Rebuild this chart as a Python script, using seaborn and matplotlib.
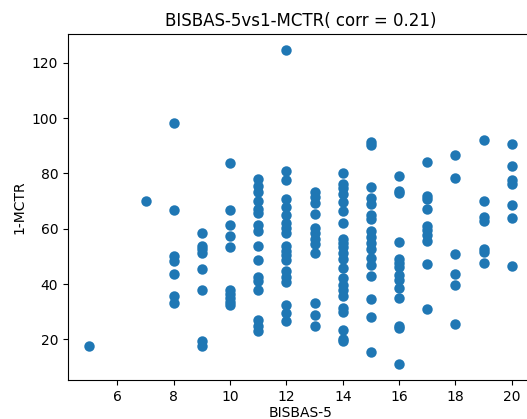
import matplotlib
matplotlib.use("Agg")
import matplotlib.pyplot as plt
import seaborn as sns
import pandas as pd

# BISBAS-5 score groups and the 1-MCTR values observed in each
bisbas_levels = [5, 7, 8, 9, 10, 11, 12, 13, 14, 15, 16, 17, 18, 19, 20]
mctr_5 = [17.5]
mctr_7 = [70.0]
mctr_8 = [98.2, 66.8, 50.3, 48.3, 43.5, 35.5, 33.0]
mctr_9 = [58.4, 53.9, 52.5, 51.2, 45.4, 37.7, 19.5, 17.5]
mctr_10 = [83.6, 66.8, 61.4, 57.2, 53.5, 38.0, 36.5, 35.0, 33.5, 32.5]
mctr_11 = [77.8, 75.4, 73.4, 70.1, 67.0, 65.6, 61.4, 59.0, 53.8, 48.8,
           42.7, 41.2, 37.9, 27.1, 24.9, 22.9]
mctr_12 = [124.7, 80.7, 77.6, 70.6, 68.0, 65.0, 62.2, 60.2, 58.4, 53.8,
           52.0, 50.6, 48.8, 44.8, 42.5, 40.7, 32.3, 29.5, 26.6]
mctr_13 = [73.4, 71.6, 69.4, 65.3, 60.2, 58.3, 56.3, 54.3, 51.1, 33.3,
           28.9, 24.7]
mctr_14 = [80.0, 76.3, 74.6, 72.6, 69.5, 66.4, 62.2, 56.2, 55.0, 53.3,
           51.2, 48.9, 45.8, 42.2, 39.8, 37.9, 35.5, 31.3, 29.8, 23.5,
           20.3, 19.4]
mctr_15 = [91.3, 90.3, 75.0, 71.0, 68.8, 65.0, 63.4, 59.2, 57.0, 55.0,
           52.7, 49.4, 47.0, 43.0, 34.6, 28.0, 15.6]
mctr_16 = [79.0, 73.6, 72.8, 55.3, 48.9, 47.6, 46.2, 43.4, 41.6, 38.4,
           35.0, 25.0, 24.2, 11.0]
mctr_17 = [84.0, 72.0, 70.6, 67.0, 61.0, 59.7, 57.8, 55.6, 47.1, 30.8]
mctr_18 = [86.8, 78.2, 50.9, 43.5, 39.7, 25.5]
mctr_19 = [92.0, 70.0, 64.1, 62.7, 52.5, 51.5, 47.5]
mctr_20 = [90.6, 82.6, 77.6, 76.1, 68.6, 63.8, 46.6]

groups = [mctr_5, mctr_7, mctr_8, mctr_9, mctr_10, mctr_11, mctr_12, mctr_13,
          mctr_14, mctr_15, mctr_16, mctr_17, mctr_18, mctr_19, mctr_20]

rows = []
for lvl, vals in zip(bisbas_levels, groups):
    for v in vals:
        rows.append((lvl, v))
df = pd.DataFrame(rows, columns=["BISBAS-5", "1-MCTR"])

W, H = 527, 419
fig = plt.figure(figsize=(W / 100, H / 100), dpi=100)
ax = fig.add_axes([68 / W, (H - 380) / H, (533 - 68) / W, (380 - 34) / H])

sns.scatterplot(data=df, x="BISBAS-5", y="1-MCTR", ax=ax, s=36,
                color="#1f77b4", edgecolor="#1f77b4", linewidth=1.5, alpha=1.0)

ax.set_title("BISBAS-5vs1-MCTR( corr = 0.21)", fontsize=12)
ax.set_xlabel("BISBAS-5", labelpad=1.5)
ax.set_ylabel("1-MCTR")
ax.set_xticks([6, 8, 10, 12, 14, 16, 18, 20])
ax.set_yticks([20, 40, 60, 80, 100, 120])

fig.savefig("out.png", dpi=100)
